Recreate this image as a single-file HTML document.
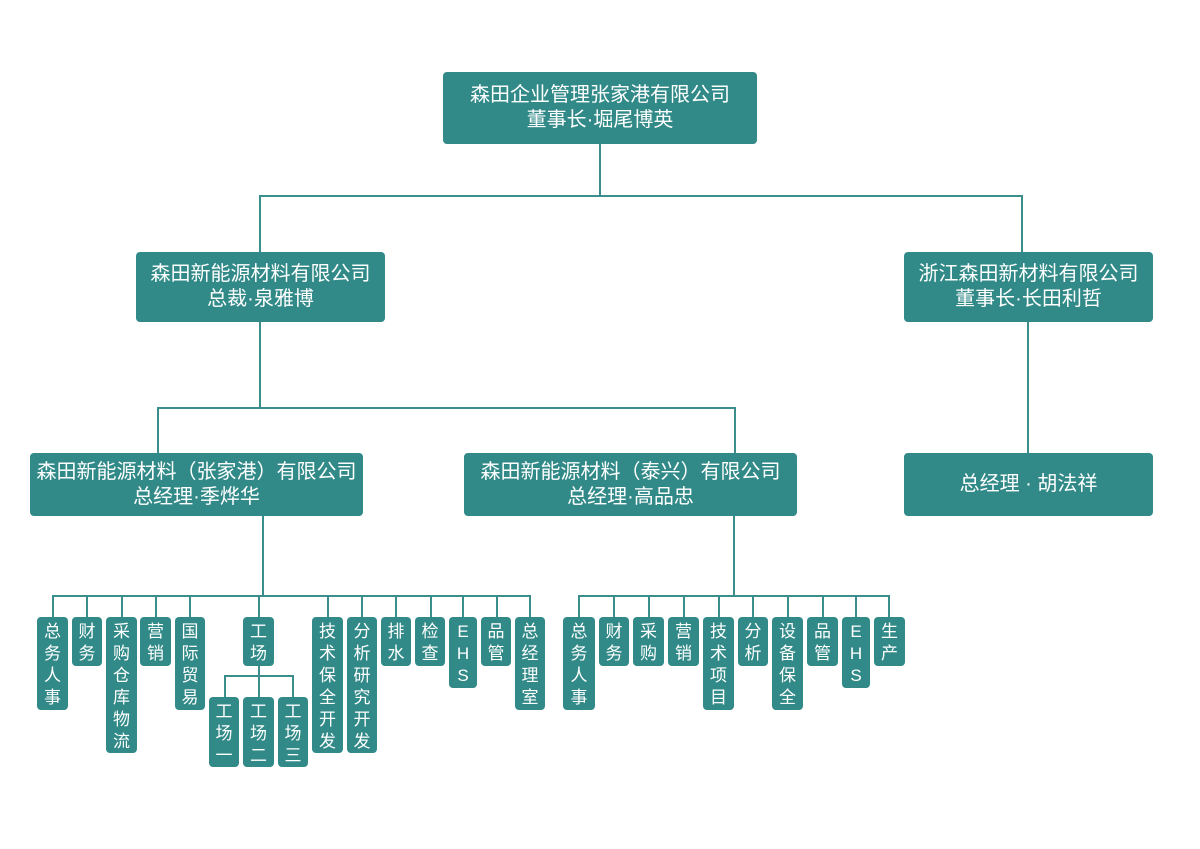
<!DOCTYPE html>
<html><head><meta charset="utf-8"><style>
body{margin:0;width:1200px;height:849px;background:#fff;position:relative;overflow:hidden;font-family:"Liberation Sans","Noto Sans CJK SC",sans-serif}
.b{position:absolute;background:#318a88;color:#fff;border-radius:4px;box-sizing:border-box;text-align:center}
.h{font-size:20px;line-height:25px;display:flex;flex-direction:column;justify-content:center;align-items:center}
.v{font-size:17px;line-height:22px;padding-top:4px}
.l{position:absolute;background:#3a8f8c}
</style></head><body>
<div class="l" style="left:599px;top:143px;width:2px;height:54px"></div>
<div class="l" style="left:259px;top:195px;width:764px;height:2px"></div>
<div class="l" style="left:259px;top:195px;width:2px;height:58px"></div>
<div class="l" style="left:1021px;top:195px;width:2px;height:58px"></div>
<div class="l" style="left:259px;top:322px;width:2px;height:87px"></div>
<div class="l" style="left:157px;top:407px;width:579px;height:2px"></div>
<div class="l" style="left:157px;top:407px;width:2px;height:47px"></div>
<div class="l" style="left:734px;top:407px;width:2px;height:47px"></div>
<div class="l" style="left:1027px;top:322px;width:2px;height:132px"></div>
<div class="l" style="left:262px;top:516px;width:2px;height:81px"></div>
<div class="l" style="left:733px;top:516px;width:2px;height:81px"></div>
<div class="l" style="left:53px;top:595px;width:478px;height:2px"></div>
<div class="l" style="left:579px;top:595px;width:311px;height:2px"></div>
<div class="l" style="left:224px;top:675px;width:70px;height:2px"></div>
<div class="l" style="left:258px;top:666px;width:2px;height:32px"></div>
<div class="l" style="left:224px;top:675px;width:2px;height:23px"></div>
<div class="l" style="left:292px;top:675px;width:2px;height:23px"></div>
<div class="l" style="left:52px;top:595px;width:2px;height:23px"></div>
<div class="l" style="left:86px;top:595px;width:2px;height:23px"></div>
<div class="l" style="left:121px;top:595px;width:2px;height:23px"></div>
<div class="l" style="left:155px;top:595px;width:2px;height:23px"></div>
<div class="l" style="left:189px;top:595px;width:2px;height:23px"></div>
<div class="l" style="left:258px;top:595px;width:2px;height:23px"></div>
<div class="l" style="left:327px;top:595px;width:2px;height:23px"></div>
<div class="l" style="left:361px;top:595px;width:2px;height:23px"></div>
<div class="l" style="left:395px;top:595px;width:2px;height:23px"></div>
<div class="l" style="left:430px;top:595px;width:2px;height:23px"></div>
<div class="l" style="left:462px;top:595px;width:2px;height:23px"></div>
<div class="l" style="left:496px;top:595px;width:2px;height:23px"></div>
<div class="l" style="left:529px;top:595px;width:2px;height:23px"></div>
<div class="l" style="left:578px;top:595px;width:2px;height:23px"></div>
<div class="l" style="left:613px;top:595px;width:2px;height:23px"></div>
<div class="l" style="left:648px;top:595px;width:2px;height:23px"></div>
<div class="l" style="left:683px;top:595px;width:2px;height:23px"></div>
<div class="l" style="left:718px;top:595px;width:2px;height:23px"></div>
<div class="l" style="left:752px;top:595px;width:2px;height:23px"></div>
<div class="l" style="left:787px;top:595px;width:2px;height:23px"></div>
<div class="l" style="left:822px;top:595px;width:2px;height:23px"></div>
<div class="l" style="left:855px;top:595px;width:2px;height:23px"></div>
<div class="l" style="left:888px;top:595px;width:2px;height:23px"></div>
<div class="b h" style="left:443px;top:72px;width:314px;height:72px">森田企业管理张家港有限公司<br>董事长·堀尾博英</div>
<div class="b h" style="left:136px;top:252px;width:249px;height:70px">森田新能源材料有限公司<br>总裁·泉雅博</div>
<div class="b h" style="left:904px;top:252px;width:249px;height:70px">浙江森田新材料有限公司<br>董事长·长田利哲</div>
<div class="b h" style="left:30px;top:453px;width:333px;height:63px">森田新能源材料（张家港）有限公司<br>总经理·季烨华</div>
<div class="b h" style="left:464px;top:453px;width:333px;height:63px">森田新能源材料（泰兴）有限公司<br>总经理·高品忠</div>
<div class="b h" style="left:904px;top:453px;width:249px;height:63px">总经理 · 胡法祥</div>
<div class="b v" style="left:37px;top:617px;width:31px;height:93px">总<br>务<br>人<br>事</div>
<div class="b v" style="left:72px;top:617px;width:30px;height:49px">财<br>务</div>
<div class="b v" style="left:106px;top:617px;width:31px;height:136px">采<br>购<br>仓<br>库<br>物<br>流</div>
<div class="b v" style="left:140px;top:617px;width:31px;height:49px">营<br>销</div>
<div class="b v" style="left:175px;top:617px;width:30px;height:93px">国<br>际<br>贸<br>易</div>
<div class="b v" style="left:243px;top:617px;width:31px;height:49px">工<br>场</div>
<div class="b v" style="left:209px;top:697px;width:30px;height:70px">工<br>场<br>一</div>
<div class="b v" style="left:243px;top:697px;width:31px;height:70px">工<br>场<br>二</div>
<div class="b v" style="left:278px;top:697px;width:30px;height:70px">工<br>场<br>三</div>
<div class="b v" style="left:312px;top:617px;width:31px;height:136px">技<br>术<br>保<br>全<br>开<br>发</div>
<div class="b v" style="left:347px;top:617px;width:30px;height:136px">分<br>析<br>研<br>究<br>开<br>发</div>
<div class="b v" style="left:381px;top:617px;width:30px;height:49px">排<br>水</div>
<div class="b v" style="left:415px;top:617px;width:30px;height:49px">检<br>查</div>
<div class="b v" style="left:449px;top:617px;width:28px;height:71px">E<br>H<br>S</div>
<div class="b v" style="left:481px;top:617px;width:30px;height:49px">品<br>管</div>
<div class="b v" style="left:515px;top:617px;width:30px;height:93px">总<br>经<br>理<br>室</div>
<div class="b v" style="left:563px;top:617px;width:32px;height:93px">总<br>务<br>人<br>事</div>
<div class="b v" style="left:599px;top:617px;width:30px;height:49px">财<br>务</div>
<div class="b v" style="left:633px;top:617px;width:31px;height:49px">采<br>购</div>
<div class="b v" style="left:668px;top:617px;width:31px;height:49px">营<br>销</div>
<div class="b v" style="left:703px;top:617px;width:31px;height:93px">技<br>术<br>项<br>目</div>
<div class="b v" style="left:738px;top:617px;width:30px;height:49px">分<br>析</div>
<div class="b v" style="left:772px;top:617px;width:31px;height:93px">设<br>备<br>保<br>全</div>
<div class="b v" style="left:807px;top:617px;width:31px;height:49px">品<br>管</div>
<div class="b v" style="left:842px;top:617px;width:28px;height:71px">E<br>H<br>S</div>
<div class="b v" style="left:874px;top:617px;width:31px;height:49px">生<br>产</div>
</body></html>
